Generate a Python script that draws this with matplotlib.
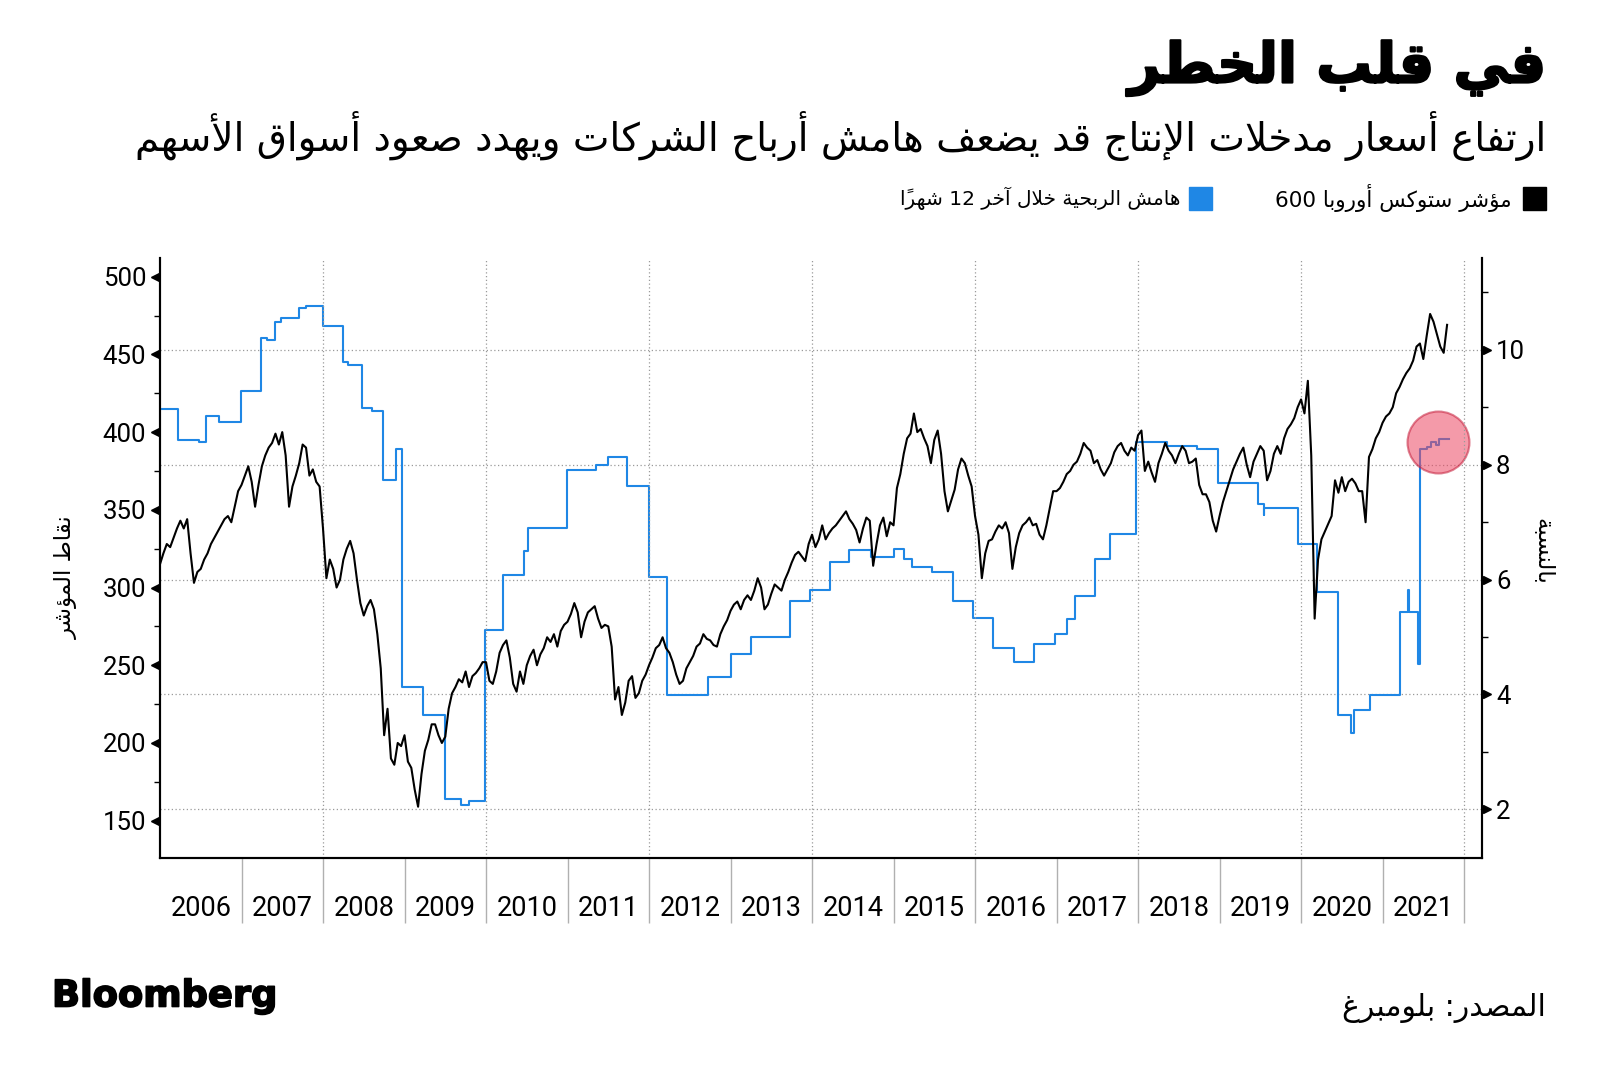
import re
import numpy as np
import matplotlib
matplotlib.use("Agg")
import matplotlib.pyplot as plt
import matplotlib.patheffects as pe
from matplotlib.patches import Rectangle

# --- minimal Arabic shaping: matplotlib has no complex text layout ---
AR_LETTERS = "ءآأؤإئابةتثجحخدذرزسشصضطظعغفقكلمنهوىي"
AR_NFORMS = [1, 2, 2, 2, 2, 4, 2, 4, 2, 4, 4, 4, 4, 4, 2, 2, 2, 2,
             4, 4, 4, 4, 4, 4, 4, 4, 4, 4, 4, 4, 4, 4, 4, 2, 2, 4]
AR_FORMS = {}
_code = 0xFE80
for _ch, _n in zip(AR_LETTERS, AR_NFORMS):
    AR_FORMS[_ch] = [chr(_code + k) for k in range(_n)]
    _code += _n
LAM_ALEF = {"آ": 0xFEF5, "أ": 0xFEF7, "إ": 0xFEF9, "ا": 0xFEFB}
MARKS = set(chr(c) for c in range(0x064B, 0x0653))


def ar(text):
    chars = list(text)
    n = len(chars)

    def neighbour(i, step):
        j = i + step
        while 0 <= j < n and chars[j] in MARKS:
            j += step
        return (chars[j], j) if 0 <= j < n else (None, None)

    out = []
    i = 0
    while i < n:
        c = chars[i]
        if c not in AR_FORMS:
            out.append(c)
            i += 1
            continue
        prev, _ = neighbour(i, -1)
        nxt, jn = neighbour(i, 1)
        join_prev = prev in AR_FORMS and len(AR_FORMS[prev]) == 4 and len(AR_FORMS[c]) > 1
        if c == "ل" and nxt in LAM_ALEF:
            out.append(chr(LAM_ALEF[nxt] + (1 if join_prev else 0)))
            i = jn + 1
            continue
        join_next = len(AR_FORMS[c]) == 4 and nxt in AR_FORMS and len(AR_FORMS[nxt]) > 1
        f = AR_FORMS[c]
        if join_prev and join_next:
            out.append(f[3])
        elif join_prev:
            out.append(f[1])
        elif join_next:
            out.append(f[2])
        else:
            out.append(f[0])
        i += 1
    runs = re.findall(r"[0-9A-Za-z.]+|.[\u064B-\u0652]*", "".join(out))
    return "".join(reversed(runs))


# --- data: Stoxx Europe 600, two readings per month (Jan 2006 - Oct 2021) ---
stoxx_2006 = [315, 322, 328, 326, 332, 338, 343, 338, 344, 322, 303, 310,
              312, 318, 322, 328, 332, 336, 340, 344, 346, 342, 352, 362]
stoxx_2007 = [366, 372, 378, 368, 352, 366, 378, 385, 390, 393, 399, 392,
              400, 385, 352, 365, 372, 380, 392, 390, 372, 376, 368, 365]
stoxx_2008 = [338, 306, 318, 312, 300, 305, 318, 325, 330, 322, 305, 290,
              282, 288, 292, 286, 270, 248, 205, 222, 190, 186, 200, 198]
stoxx_2009 = [205, 188, 184, 170, 159, 180, 195, 202, 212, 212, 205, 200,
              204, 222, 232, 236, 241, 239, 246, 236, 243, 245, 248, 252]
stoxx_2010 = [252, 240, 238, 246, 258, 263, 266, 255, 238, 233, 246, 238,
              250, 256, 260, 250, 257, 261, 268, 265, 270, 262, 272, 276]
stoxx_2011 = [278, 283, 290, 284, 268, 278, 284, 286, 288, 280, 274, 276,
              275, 262, 228, 236, 218, 226, 240, 243, 229, 232, 240, 244]
stoxx_2012 = [250, 255, 261, 263, 268, 261, 258, 252, 244, 238, 240, 248,
              252, 256, 262, 264, 270, 267, 266, 263, 262, 270, 275, 279]
stoxx_2013 = [285, 289, 291, 286, 292, 295, 292, 298, 306, 300, 286, 289,
              296, 302, 300, 298, 305, 310, 316, 321, 323, 320, 317, 328]
stoxx_2014 = [334, 326, 331, 340, 331, 335, 338, 340, 343, 346, 349, 344,
              341, 337, 329, 338, 345, 343, 314, 328, 340, 345, 333, 342]
stoxx_2015 = [340, 364, 373, 386, 396, 399, 412, 400, 402, 396, 391, 380,
              395, 401, 386, 362, 349, 356, 363, 376, 383, 380, 372, 365]
stoxx_2016 = [346, 334, 306, 322, 330, 331, 336, 340, 338, 342, 335, 312,
              326, 335, 340, 342, 345, 340, 341, 334, 331, 340, 351, 362]
stoxx_2017 = [362, 364, 368, 373, 375, 379, 381, 386, 393, 390, 388, 380,
              382, 376, 372, 376, 380, 387, 391, 393, 388, 385, 390, 388]
stoxx_2018 = [398, 401, 375, 381, 374, 368, 380, 386, 393, 388, 385, 380,
              386, 391, 388, 380, 381, 383, 366, 360, 360, 355, 343, 336]
stoxx_2019 = [346, 355, 362, 369, 376, 381, 386, 390, 379, 371, 381, 386,
              391, 388, 369, 375, 386, 391, 386, 396, 402, 405, 409, 416]
stoxx_2020 = [421, 412, 433, 385, 280, 318, 331, 336, 341, 346, 369, 361,
              371, 362, 368, 370, 367, 362, 362, 342, 384, 389, 396, 400]
stoxx_2021 = [406, 410, 412, 416, 425, 429, 434, 438, 441, 446, 455, 457,
              447, 462, 476, 471, 463, 455, 451, 469]

# --- data: trailing 12-month profit margin (%), value from each start date ---
margin_start = [2006.00, 2006.225, 2006.475, 2006.56, 2006.725, 2006.99, 2007.24,
                2007.31, 2007.41, 2007.49, 2007.70, 2007.79, 2008.00, 2008.24,
                2008.31, 2008.475, 2008.60, 2008.74, 2008.90, 2008.975, 2009.225,
                2009.50, 2009.69, 2009.79, 2009.99, 2010.21, 2010.46, 2010.52,
                2010.99, 2011.35, 2011.50, 2011.725, 2012.00, 2012.225, 2012.725,
                2013.00, 2013.25, 2013.725, 2013.975, 2014.225, 2014.45, 2014.725,
                2015.00, 2015.125, 2015.225, 2015.475, 2015.725, 2015.975, 2016.225,
                2016.475, 2016.725, 2016.975, 2017.125, 2017.225, 2017.475, 2017.66,
                2017.975, 2018.35, 2018.725, 2018.975, 2019.475, 2019.54, 2019.55,
                2019.96, 2020.20, 2020.45, 2020.61, 2020.65, 2020.85, 2021.21,
                2021.31, 2021.32, 2021.44, 2021.455, 2021.54, 2021.60, 2021.65,
                2021.69, 2021.82]
margin_value = [8.97, 8.43, 8.40, 8.84, 8.75, 9.29, 10.21,
                10.17, 10.48, 10.55, 10.73, 10.77, 10.41, 9.79,
                9.74, 8.98, 8.93, 7.74, 8.27, 4.12, 3.64,
                2.17, 2.08, 2.15, 5.12, 6.08, 6.49, 6.90,
                7.91, 8.00, 8.13, 7.63, 6.04, 3.99, 4.31,
                4.71, 5.00, 5.63, 5.81, 6.31, 6.52, 6.40,
                6.54, 6.36, 6.22, 6.13, 5.63, 5.33, 4.80,
                4.56, 4.88, 5.06, 5.31, 5.72, 6.35, 6.79,
                8.40, 8.32, 8.27, 7.68, 7.32, 7.12, 7.25,
                6.62, 5.79, 3.64, 3.32, 3.73, 3.99, 5.43,
                5.81, 5.43, 4.53, 8.28, 8.30, 8.40, 8.35,
                8.45, 8.45]

years = list(range(2006, 2022))
left_ticks = [150, 200, 250, 300, 350, 400, 450, 500]
right_ticks = [2, 4, 6, 8, 10]

title = "في قلب الخطر"
subtitle = "ارتفاع أسعار مدخلات الإنتاج قد يضعف هامش أرباح الشركات ويهدد صعود أسواق الأسهم"
legend_black = "مؤشر ستوكس أوروبا 600"
legend_blue = "هامش الربحية خلال آخر 12 شهراً"
left_label = "نقاط المؤشر"
right_label = "بالنسبة"
source = "المصدر: بلومبرغ"

stoxx = np.concatenate([stoxx_2006, stoxx_2007, stoxx_2008, stoxx_2009, stoxx_2010,
                        stoxx_2011, stoxx_2012, stoxx_2013, stoxx_2014, stoxx_2015,
                        stoxx_2016, stoxx_2017, stoxx_2018, stoxx_2019, stoxx_2020,
                        stoxx_2021])
stoxx_x = 2006 + np.arange(len(stoxx)) / 24

BLUE = "#1f87e5"
GRID = "#9a9a9a"
W, H = 1600, 1074
plt.rcParams["font.family"] = ["DejaVu Sans"]

fig = plt.figure(figsize=(16, 10.74), dpi=100)
ax = fig.add_axes([160 / W, 1 - 858 / H, (1482 - 160) / W, 600 / H])
ax2 = ax.twinx()
ax.set_zorder(ax2.get_zorder() + 1)
ax.patch.set_visible(False)

ax.set_xlim(2006, 2022.22)
ax.set_ylim(126, 512)
ax2.set_ylim(1.15, 11.6)

# lines
ax2.step(margin_start, margin_value, where="post", color=BLUE, lw=1.5, zorder=3)
ax.plot(stoxx_x, stoxx, color="black", lw=1.5, zorder=3)
ax2.scatter([2021.68], [8.40], s=1990, facecolor="#ec4863", edgecolor="#c41d3a",
            linewidth=1.5, alpha=0.55, zorder=5)

# grid
for yr in range(2008, 2023, 2):
    ax.axvline(yr, color=GRID, lw=0.9, ls=(0, (1, 2)), zorder=1)
ax2.set_yticks(right_ticks)
ax2.yaxis.grid(True, color=GRID, lw=0.9, ls=(0, (1, 2)))
ax2.set_axisbelow(True)

# spines
for a in (ax, ax2):
    a.spines["top"].set_visible(False)
    for s in ("left", "right", "bottom"):
        a.spines[s].set_linewidth(1.5)

# x axis: separators at year boundaries, labels mid-year
ax.set_xticks([y + 1 for y in years])
ax.set_xticklabels([])
ax.tick_params(axis="x", which="major", length=47, width=1, color="#b0b0b0", direction="out")
ax.set_xticks([y + 0.5 for y in years], minor=True)
ax.set_xticklabels([str(y) for y in years], minor=True, fontfamily="Roboto", fontsize=19.5)
ax.tick_params(axis="x", which="minor", length=0, pad=27)

# left y axis
ax.set_yticks(left_ticks)
ax.set_yticklabels([str(v) for v in left_ticks], fontfamily="Roboto", fontsize=18.5)
ax.set_yticks([v + 25 for v in left_ticks[:-1]], minor=True)
ax.tick_params(axis="y", which="major", length=0, pad=10)
ax.tick_params(axis="y", which="minor", length=4, width=1, direction="out")
ax.plot([-0.0035] * len(left_ticks), left_ticks, ls="none", marker="<", ms=6,
        color="black", transform=ax.get_yaxis_transform(), clip_on=False)

# right y axis
ax2.set_yticklabels([str(v) for v in right_ticks], fontfamily="Roboto", fontsize=18.5)
ax2.set_yticks([v + 1 for v in right_ticks], minor=True)
ax2.tick_params(axis="y", which="major", length=0, pad=10)
ax2.tick_params(axis="y", which="minor", length=4, width=1, direction="out")
ax2.plot([1.0035] * len(right_ticks), right_ticks, ls="none", marker=">", ms=6,
         color="black", transform=ax2.get_yaxis_transform(), clip_on=False)

# axis titles
fig.text(66 / W, 1 - 577 / H, ar(left_label), rotation=90, ha="center", va="center", fontsize=16.5)
fig.text(1543 / W, 1 - 551 / H, ar(right_label), rotation=-90, ha="center", va="center", fontsize=16.5)

# titles
heavy = [pe.withStroke(linewidth=1.6, foreground="black")]
fig.text(1546 / W, 1 - 68 / H, ar(title), ha="right", va="center", fontsize=40,
         fontweight="bold", path_effects=heavy)
fig.text(1546 / W, 1 - 136 / H, ar(subtitle), ha="right", va="center", fontsize=28)

# legend
fig.add_artist(Rectangle((1523 / W, 1 - 210 / H), 23 / W, 23 / H, color="black",
                         transform=fig.transFigure))
fig.text(1512 / W, 1 - 198 / H, ar(legend_black), ha="right", va="center", fontsize=15.5)
fig.add_artist(Rectangle((1189 / W, 1 - 210 / H), 23 / W, 23 / H, color=BLUE,
                         transform=fig.transFigure))
fig.text(1181 / W, 1 - 198 / H, ar(legend_blue), ha="right", va="center", fontsize=14.5)

# footer
fig.text(1546 / W, 1 - 1008 / H, ar(source), ha="right", va="center", fontsize=21.5)
fig.text(52 / W, 1 - 996 / H, "Bloomberg", ha="left", va="center", fontsize=26.5,
         fontweight="bold", path_effects=[pe.withStroke(linewidth=1.2, foreground="black")])

fig.savefig("out.png", dpi=100, facecolor="white")
